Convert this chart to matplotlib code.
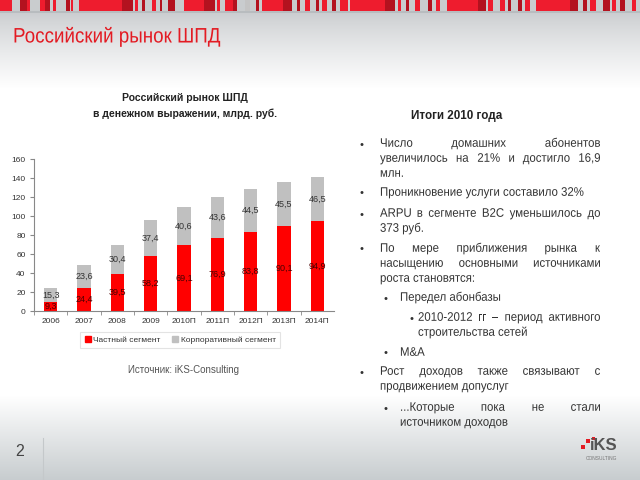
import matplotlib
matplotlib.use("Agg")
import matplotlib.pyplot as plt
import numpy as np
from matplotlib.patches import Rectangle, PathPatch
from matplotlib.lines import Line2D
from matplotlib.textpath import TextPath
from matplotlib.font_manager import FontProperties
from matplotlib.transforms import Affine2D

W, H = 640, 480
fig = plt.figure(figsize=(6.4, 4.8), dpi=100)
plt.rcParams['font.family'] = ['Liberation Sans', 'DejaVu Sans']

# ---------------- data ----------------
years = ["2006", "2007", "2008", "2009", "2010П", "2011П", "2012П", "2013П", "2014П"]
private = [9.3, 24.4, 39.5, 58.2, 69.1, 76.9, 83.8, 90.1, 94.9]
corporate = [15.3, 23.6, 30.4, 37.4, 40.6, 43.6, 44.5, 45.5, 46.5]
yticks = [0, 20, 40, 60, 80, 100, 120, 140, 160]
series_names = ["Частный сегмент", "Корпоративный сегмент"]

RED = "#ff0000"
GRAY = "#c0c0c0"


def fx(x):
    return x / W


def fy(y):
    return 1 - y / H


# ---------------- background ----------------
bg = fig.add_axes([0, 0, 1, 1], zorder=-10)
bg.set_xlim(0, W)
bg.set_ylim(H, 0)
bg.axis("off")
top_c = np.array([0.79, 0.80, 0.81])
bot_c = np.array([0.78, 0.80, 0.81])
white = np.array([1.0, 1.0, 1.0])
grad = np.zeros((H, 1, 3))
for i in range(H):
    if i < 88:
        t = max(0.0, (i - 12) / 76.0) ** 0.8
        c = top_c * (1 - t) + white * t
    elif i < 395:
        c = white
    else:
        t = (i - 395) / 85.0
        c = white * (1 - t) + bot_c * t
    grad[i, 0, :] = c
bg.imshow(grad, aspect="auto", extent=(0, W, H, 0), zorder=0)

# top stripes (decoration)
R, D, G = "#ee1c2e", "#b3121f", "#c4c4c4"
stripes = [(0, 12, R), (20, 27, D), (27, 30, R), (40, 47, R), (45, 50, D), (53, 56, R),
           (66, 70, D), (71, 73, R), (79, 122, R), (122, 133, D), (135, 138, R), (142, 145, D),
           (152, 156, R), (160, 162, D), (168, 175, D), (184, 204, R), (204, 215, D),
           (217, 220, R), (225, 233, R), (233, 237, D), (245, 250, G), (256, 259, D),
           (262, 290, R), (283, 292, D), (297, 300, D), (305, 310, R), (316, 319, D),
           (322, 327, R), (332, 336, D), (340, 348, R), (350, 385, R), (385, 395, D),
           (398, 401, R), (406, 409, D), (415, 420, R), (428, 432, D), (436, 440, R),
           (447, 478, R), (478, 486, D), (488, 493, R), (500, 505, R), (508, 511, D),
           (518, 522, D), (525, 530, R), (536, 570, R), (570, 578, D), (583, 587, D),
           (590, 596, R), (603, 610, D), (612, 616, R), (620, 625, D), (632, 636, R)]
for x0, x1, c in stripes:
    bg.add_patch(Rectangle((x0, 0), x1 - x0, 11, color=c, lw=0, zorder=1))
bg.add_patch(Rectangle((0, 11), W, 2, color="#b8bcbf", lw=0, zorder=1))

# page number and separator
bg.plot([43, 43], [438, 480], color="#c4c8ca", lw=0.8, zorder=2)
fig.text(fx(20), fy(452), "2", fontsize=11.5, color="#444444", ha="center", va="center")

# logo
for (x, y, s) in [(583, 447, 4), (588, 441, 4), (593, 438, 3)]:
    bg.add_patch(Rectangle((x - s / 2, y - s / 2), s, s, color="#e31b23", lw=0, zorder=3))
fig.text(fx(604), fy(446), "iKS", fontsize=12, fontweight="bold", color="#555555",
         ha="center", va="center", family=["Liberation Sans Narrow", "Liberation Sans"])
fig.text(fx(601), fy(458), "CONSULTING", fontsize=3.5, color="#777777", ha="center", va="center")


# ---------------- condensed text helper ----------------
def tpath(s, size_px, weight="normal"):
    return TextPath((0, 0), s, size=size_px,
                    prop=FontProperties(family="Liberation Sans", weight=weight))


def ctext(x, y_base, s, size_px, sx, color, weight="normal"):
    tp = tpath(s, size_px, weight)
    tr = Affine2D().scale(sx, -1).translate(x, y_base)
    p = tr.transform_path(tp)
    bg.add_patch(PathPatch(p, facecolor=color, edgecolor="none", lw=0, zorder=5))


def cwidth(s, size_px, sx):
    tp = tpath(s, size_px)
    ext = tp.get_extents()
    return ext.x1 * sx


# ---------------- titles ----------------
ctext(13, 42.5, "Российский рынок ШПД", 21, 0.895, "#e31b23")
fig.text(fx(185), fy(98), "Российский рынок ШПД", fontsize=7.5, fontweight="bold",
         color="#222222", ha="center", va="center")
fig.text(fx(185), fy(114), "в денежном выражении, млрд. руб.", fontsize=7.5, fontweight="bold",
         color="#222222", ha="center", va="center")

# ---------------- chart ----------------
ax = fig.add_axes([fx(34), fy(311), (334 - 34) / W, (311 - 159.3) / H])
ax.set_facecolor("none")
x = np.arange(len(years))
bw = 0.4
ax.bar(x, private, bw, color=RED, zorder=2)
ax.bar(x, corporate, bw, bottom=private, color=GRAY, zorder=2)
for i in range(len(years)):
    ax.text(x[i], private[i] / 2, f"{private[i]:.1f}".replace(".", ","), ha="center",
            va="center", fontsize=6.5, color="#4a0000", zorder=3)
    ax.text(x[i], private[i] + corporate[i] / 2, f"{corporate[i]:.1f}".replace(".", ","),
            ha="center", va="center", fontsize=6.5, color="#333333", zorder=3)
ax.set_xlim(-0.5, len(years) - 0.5)
ax.set_ylim(0, 160)
ax.set_yticks(yticks)
ax.set_yticklabels([str(v) for v in yticks], fontsize=6, color="#333333")
ax.set_xticks(x)
ax.set_xticklabels(years, fontsize=6, color="#333333")
ax.tick_params(axis="x", length=0, pad=5)
ax.set_xticks(np.arange(len(years)) - 0.5, minor=True)
ax.tick_params(axis="x", which="minor", length=3, color="#888888", direction="out")
ax.tick_params(axis="y", length=3, color="#888888", direction="out", pad=3)
for s in ["top", "right"]:
    ax.spines[s].set_visible(False)
for s in ["left", "bottom"]:
    ax.spines[s].set_color("#888888")
    ax.spines[s].set_linewidth(0.8)

# legend
handles = [Line2D([], [], marker="s", ls="", color=RED, markersize=5),
           Line2D([], [], marker="s", ls="", color=GRAY, markersize=5)]
leg = fig.legend(handles, series_names, loc="center", bbox_to_anchor=(fx(180), fy(340)),
                 ncol=2, fontsize=6, frameon=True, fancybox=False, edgecolor="#dddddd",
                 handletextpad=0.2, columnspacing=1.3, borderpad=0.45, handlelength=0.9,
                 borderaxespad=0)
leg.get_frame().set_linewidth(0.8)
for t in leg.get_texts():
    t.set_color("#333333")

fig.text(fx(183), fy(370), "Источник: iKS-Consulting", fontsize=7, color="#555555",
         ha="center", va="center")

# ---------------- right text ----------------
fig.text(fx(457), fy(116), "Итоги 2010 года", fontsize=8.4, fontweight="bold", color="#222222",
         ha="center", va="center")

SIZE = 12.4
SX = 0.92
COL = "#333333"
RIGHT = 600


def line(xl, y, s, justify=False):
    base = y + 3.8
    if not justify:
        ctext(xl, base, s, SIZE, SX, COL)
        return
    words = s.split()
    widths = [cwidth(w, SIZE, SX) for w in words]
    gap = (RIGHT - xl - sum(widths)) / (len(words) - 1)
    cur = xl
    for w, wd in zip(words, widths):
        ctext(cur, base, w, SIZE, SX, COL)
        cur += wd + gap


def bullet(xb, y):
    fig.text(fx(xb), fy(y + 1.5), "•", ha="center", va="center", fontsize=8, color=COL)


bullet(361, 143)
line(380, 143, "Число домашних абонентов", True)
line(380, 158, "увеличилось на 21% и достигло 16,9", True)
line(380, 173, "млн.")
bullet(361, 192)
line(380, 192, "Проникновение услуги составило 32%")
bullet(361, 213)
line(380, 213, "ARPU в сегменте B2C уменьшилось до", True)
line(380, 228, "373 руб.")
bullet(361, 248)
line(380, 248, "По мере приближения рынка к", True)
line(380, 263, "насыщению основными источниками", True)
line(380, 278, "роста становятся:")
bullet(386, 297)
line(400, 297, "Передел абонбазы")
bullet(411, 317)
line(418, 317, "2010-2012 гг – период активного", True)
line(418, 332, "строительства сетей")
bullet(386, 352)
line(400, 352, "M&A")
bullet(361, 371)
line(380, 371, "Рост доходов также связывают с", True)
line(380, 386, "продвижением допуслуг")
bullet(386, 407)
line(400, 407, "...Которые пока не стали", True)
line(400, 422, "источником доходов")

fig.savefig("out.png", dpi=100)
